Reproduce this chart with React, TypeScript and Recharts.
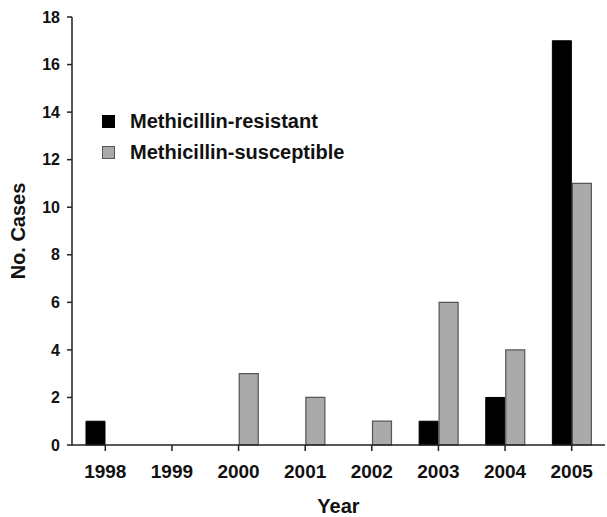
import React from 'react';
import { BarChart, Bar, XAxis, YAxis, Label } from 'recharts';

const years = ['1998', '1999', '2000', '2001', '2002', '2003', '2004', '2005'];
const resistant = [1, 0, 0, 0, 0, 1, 2, 17];
const susceptible = [0, 0, 3, 2, 1, 6, 4, 11];
const yTicks = [0, 2, 4, 6, 8, 10, 12, 14, 16, 18];

const data = years.map((y, i) => ({ year: y, resistant: resistant[i], susceptible: susceptible[i] }));

const FONT = 'Arial, "Liberation Sans", sans-serif';

const legendItems = [
  { name: 'Methicillin-resistant', fill: '#000', stroke: '#000' },
  { name: 'Methicillin-susceptible', fill: '#aaaaaa', stroke: '#555' },
];

export default function App() {
  return (
    <div style={{ position: 'absolute', left: 0, top: 0, width: 607, height: 517, background: '#fff' }}>
      <BarChart
        width={607}
        height={517}
        data={data}
        margin={{ top: 17, right: 2, bottom: 0, left: 0 }}
        barCategoryGap="21%"
        barGap={1}
      >
        <XAxis
          dataKey="year"
          height={72}
          interval={0}
          axisLine={{ stroke: '#222', strokeWidth: 1.5 }}
          tickLine={{ stroke: '#222', strokeWidth: 1.5 }}
          tickSize={6}
          tick={{ fill: '#111', fontSize: 19, fontWeight: 'bold', fontFamily: FONT }}
          tickMargin={14}
        >
          <Label value="Year" position="insideBottom" offset={4} style={{ fill: '#111', fontSize: 20, fontWeight: 'bold', fontFamily: FONT }} />
        </XAxis>
        <YAxis
          width={72}
          domain={[0, 18]}
          ticks={yTicks}
          interval={0}
          axisLine={{ stroke: '#222', strokeWidth: 1.5 }}
          tickLine={{ stroke: '#222', strokeWidth: 1.5 }}
          tickSize={5}
          tickMargin={7}
          tick={{ fill: '#111', fontSize: 16, fontWeight: 'bold', fontFamily: FONT }}
        >
          <Label value="No. Cases" angle={-90} position="insideLeft" offset={18} style={{ textAnchor: 'middle', fill: '#111', fontSize: 20, fontWeight: 'bold', fontFamily: FONT }} />
        </YAxis>
        <Bar dataKey="resistant" name="Methicillin-resistant" fill="#000" stroke="#000" isAnimationActive={false} />
        <Bar dataKey="susceptible" name="Methicillin-susceptible" fill="#aaaaaa" stroke="#555" strokeWidth={1.2} isAnimationActive={false} />
      </BarChart>
      <div style={{ position: 'absolute', left: 102, top: 106, fontFamily: FONT, fontWeight: 'bold', fontSize: 20, color: '#111' }}>
        {legendItems.map((e) => (
          <div key={e.name} style={{ display: 'flex', alignItems: 'center', height: 31 }}>
            <div style={{ width: 11, height: 11, background: e.fill, border: `1px solid ${e.stroke}`, marginRight: 15 }} />
            <span>{e.name}</span>
          </div>
        ))}
      </div>
    </div>
  );
}
